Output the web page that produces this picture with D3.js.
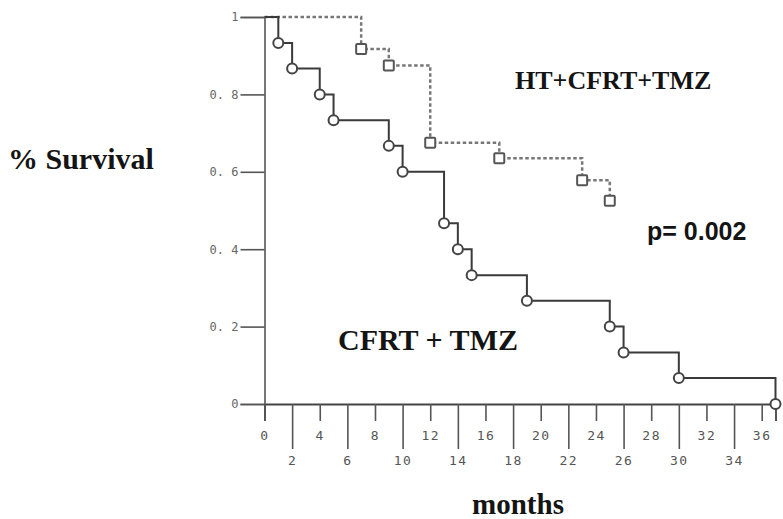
<!DOCTYPE html>
<html>
<head>
<meta charset="utf-8">
<script src="https://cdn.jsdelivr.net/npm/d3@7/dist/d3.min.js"></script>
<style>
  html, body { margin: 0; padding: 0; background: #fff; }
  svg { display: block; }
</style>
</head>
<body>
<svg id="chart" width="783" height="519"></svg>
<script>
// ---- data ----
const cfrtMonths   = [0, 1, 2, 4, 5, 9, 10, 13, 14, 15, 19, 25, 26, 30, 37];
const cfrtSurvival = [1, 0.933, 0.867, 0.8, 0.733, 0.667, 0.6, 0.467, 0.4, 0.333, 0.267, 0.2, 0.133, 0.067, 0];
const htMonths     = [0, 7, 9, 12, 17, 23, 25];
const htSurvival   = [1, 0.917, 0.875, 0.675, 0.635, 0.578, 0.525];
const xTicks = [0, 2, 4, 6, 8, 10, 12, 14, 16, 18, 20, 22, 24, 26, 28, 30, 32, 34, 36];
const yTicks = [0, 0.2, 0.4, 0.6, 0.8, 1];
const yTickLabels = ["0", "0. 2", "0. 4", "0. 6", "0. 8", "1"];

const svg = d3.select("#chart");
svg.append("rect").attr("width", 783).attr("height", 519).attr("fill", "#fff");

const x = d3.scaleLinear().domain([0, 37]).range([264.5, 775.5]);
const y = d3.scaleLinear().domain([0, 1]).range([404, 17]);

const monoFont = "'DejaVu Sans Mono', 'Liberation Mono', monospace";
const serifFont = "'Liberation Serif', 'DejaVu Serif', serif";

// ---- x axis ----
const xAxis = svg.append("g")
  .attr("transform", `translate(0,${y(0)})`)
  .call(d3.axisBottom(x).tickValues(xTicks).tickSizeOuter(0).tickSize(17).tickPadding(4));
xAxis.select(".domain").attr("stroke", "#444").attr("stroke-width", 1.8);
xAxis.selectAll(".tick").each(function(d, i) {
  const g = d3.select(this);
  const long = i % 2 === 1;
  g.select("line").attr("y2", long ? 45 : 17).attr("stroke", "#555").attr("stroke-width", 1.6);
  g.select("text").attr("y", long ? 52 : 27);
});
xAxis.selectAll("text")
  .attr("font-family", monoFont).attr("font-size", 13).attr("fill", "#555")
  .attr("letter-spacing", 1.5);

// ---- y axis ----
const yAxis = svg.append("g")
  .attr("transform", `translate(${x(0)},0)`)
  .call(d3.axisLeft(y).tickValues(yTicks).tickSizeOuter(0).tickSize(24).tickPadding(2)
    .tickFormat((d, i) => yTickLabels[i]));
yAxis.select(".domain").attr("stroke", "#555").attr("stroke-width", 1.6);
yAxis.selectAll(".tick line").attr("stroke", "#555").attr("stroke-width", 1.6);
yAxis.selectAll("text")
  .attr("font-family", monoFont).attr("font-size", 12).attr("fill", "#666")
  .attr("xml:space", "preserve");

// ---- curves ----
const htData = htMonths.map((m, i) => [m, htSurvival[i]]);
const cfrtData = cfrtMonths.map((m, i) => [m, cfrtSurvival[i]]);
const stepLine = d3.line().x(d => x(d[0])).y(d => y(d[1])).curve(d3.curveStepAfter);

svg.append("path").datum(htData)
  .attr("d", stepLine).attr("fill", "none")
  .attr("stroke", "#777").attr("stroke-width", 2.5).attr("stroke-dasharray", "3.5,2.5");

svg.append("path").datum(cfrtData)
  .attr("d", stepLine).attr("fill", "none")
  .attr("stroke", "#3a3a3a").attr("stroke-width", 2);

svg.selectAll("rect.ht").data(htData.slice(1)).enter().append("rect")
  .attr("class", "ht")
  .attr("x", d => x(d[0]) - 5).attr("y", d => y(d[1]) - 5)
  .attr("width", 10).attr("height", 10).attr("rx", 1)
  .attr("fill", "#fff").attr("stroke", "#555").attr("stroke-width", 2);

svg.selectAll("circle.cf").data(cfrtData.slice(1)).enter().append("circle")
  .attr("class", "cf")
  .attr("cx", d => x(d[0])).attr("cy", d => y(d[1])).attr("r", 5)
  .attr("fill", "#fff").attr("stroke", "#444").attr("stroke-width", 2);

// ---- text ----
function label(txt, px, py, size, family, anchor) {
  svg.append("text").text(txt)
    .attr("x", px).attr("y", py)
    .attr("font-family", family).attr("font-size", size)
    .attr("font-weight", "bold").attr("fill", "#141414")
    .attr("text-anchor", anchor || "start");
}
label("% Survival", 8, 169, 30, serifFont);
label("HT+CFRT+TMZ", 515, 89, 26, serifFont);
label("CFRT + TMZ", 338, 350, 30, serifFont);
label("p= 0.002", 647, 240, 25, "'Liberation Sans', Arial, sans-serif");
label("months", 518, 514, 29, serifFont, "middle");
</script>
</body>
</html>
